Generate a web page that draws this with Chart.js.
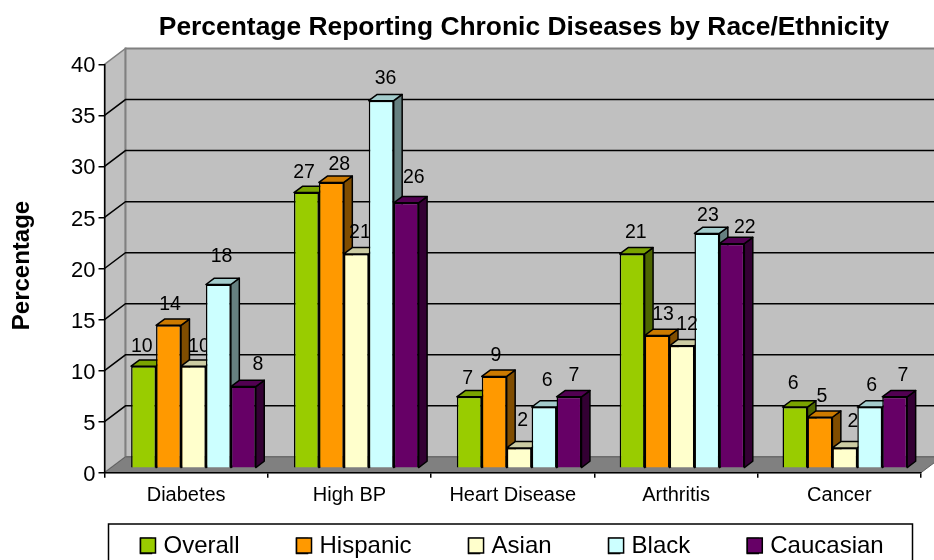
<!DOCTYPE html>
<html><head><meta charset="utf-8">
<style>html,body{margin:0;padding:0;background:#fff;overflow:hidden}canvas{display:block}</style>
<script src="https://cdn.jsdelivr.net/npm/chart.js@4"></script>
</head><body><canvas id="c" width="934" height="560"></canvas>
<script>
const categories = ["Diabetes","High BP","Heart Disease","Arthritis","Cancer"];
const overall  = [10,27,7,21,6];
const hispanic = [14,28,9,13,5];
const asian    = [10,21,2,12,2];
const black    = [18,36,6,23,6];
const caucasian= [8,26,7,22,7];
const seriesNames = ["Overall","Hispanic","Asian","Black","Caucasian"];
const seriesValues = [overall,hispanic,asian,black,caucasian];
const seriesColors = ["#99cc00","#ff9900","#ffffcc","#ccffff","#660066"];
const yTickMax = 40, yTickStep = 5;

// presentation only
const FONT = '"Liberation Sans", Arial, sans-serif';
const wallDX = 21, wallDY = -15.8;      // back wall offset from the axis plane
const barK = 0.99724, barDX = 7.81, barDY = -4.4; // bar plane relative to the axis plane
const depthDX = 8.5, depthDY = -6.3;    // bar depth
const labelNudge = [ // x nudges of data labels, per series per category
  [-1.8,-2.4,-1.5,3.7,-1.9],
  [1.5,7.9,1.8,6,2.1],
  [5.5,3.6,3.5,5,8.1],
  [3.2,4.3,3.1,1,1.8],
  [14.5,7.6,4.8,13,8.1]
];
const labelLift = [ // height of data labels above the bar's front top edge
  [19.5,20.3,18.5,21,23.7],
  [20.4,18,20.7,20.6,21],
  [19.5,21,27,20.8,26],
  [27.8,21.7,26,17.8,21],
  [21.6,24.8,20.8,15.7,21]
];
const labelsBehindNextBar = ["2:0","2:1"]; // series:category labels partly hidden by the next bar
function shade(hex,f){
  const n=parseInt(hex.slice(1),16);
  return `rgb(${Math.round((n>>16&255)*f)},${Math.round((n>>8&255)*f)},${Math.round((n&255)*f)})`;
}
function poly(ctx,pts,fill,stroke,lw){
  ctx.beginPath();pts.forEach((p,i)=>i?ctx.lineTo(p[0],p[1]):ctx.moveTo(p[0],p[1]));ctx.closePath();
  if(fill){ctx.fillStyle=fill;ctx.fill();}
  if(stroke){ctx.strokeStyle=stroke;ctx.lineWidth=lw||1;ctx.stroke();}
}
function shiftMethod(obj,name,ctx,dx,dy){
  const orig=obj[name];
  obj[name]=function(...args){ctx.save();ctx.translate(dx,dy);orig.apply(this,args);ctx.restore();};
}
const threeD = {
  id:'threeD',
  beforeLayout(chart){
    const lg=chart.legend;
    if(lg && !lg.__patched){
      lg.__patched=true;
      const fit=lg.fit;
      lg.fit=function(){fit.call(this);this.height=0;};
    }
  },
  beforeDraw(chart){
    const {ctx,chartArea:a,scales:{y}}=chart;
    const L=a.left,R=a.right,T=a.top,B=a.bottom;
    // title, legend and y-axis text placement
    chart.titleBlock.left=127;
    const lg=chart.legend, pad=lg.options.labels.padding;
    lg.left=140.5-pad; lg.right=1200; lg.top=546-12-pad; lg.bottom=560;
    if(!y.__shifted){
      y.__shifted=true;
      shiftMethod(y,'drawLabels',ctx,0,2);
      shiftMethod(y,'drawTitle',ctx,2,-3);
    }
    ctx.save();
    poly(ctx,[[L,T],[L+wallDX,T+wallDY],[L+wallDX,B+wallDY],[L,B]],'#c0c0c0','#808080',1.5);
    poly(ctx,[[L+wallDX,T+wallDY],[R+wallDX,T+wallDY],[R+wallDX,B+wallDY],[L+wallDX,B+wallDY]],'#c0c0c0','#808080',2);
    poly(ctx,[[L,B],[L+wallDX,B+wallDY],[R+wallDX,B+wallDY],[R,B]],'#808080','#606060',1);
    ctx.strokeStyle='#000';ctx.lineWidth=1.5;
    y.ticks.forEach(t=>{
      if(t.value===0||t.value===yTickMax) return;
      const p=y.getPixelForValue(t.value);
      ctx.beginPath();ctx.moveTo(L,p);ctx.lineTo(L+wallDX,p+wallDY);ctx.lineTo(R+wallDX,p+wallDY);ctx.stroke();
    });
    ctx.strokeStyle='#000';ctx.lineWidth=1.5;ctx.strokeRect(108.5,524,804,40);
    ctx.restore();
  },
  beforeDatasetsDraw(chart){
    const {ctx}=chart;
    ctx.save();
    ctx.transform(barK,0,0,1,barDX,barDY);
    ctx.lineJoin='round';
    chart.data.datasets.forEach((ds,i)=>{
      chart.getDatasetMeta(i).data.forEach(el=>{
        const {x,y,base,width}=el.getProps(['x','y','base','width'],false);
        const l=x-width/2,r=x+width/2;
        const c=seriesColors[i];
        poly(ctx,[[r,y],[r+depthDX,y+depthDY],[r+depthDX,base+depthDY],[r,base]],shade(c,.5),'#000',1.5);
        poly(ctx,[[l,y],[l+depthDX,y+depthDY],[r+depthDX,y+depthDY],[r,y]],shade(c,.8),'#000',1.5);
      });
    });
    ctx.restore();
    ctx.save();
    ctx.transform(barK,0,0,1,barDX,barDY);
  },
  afterDatasetsDraw(chart){
    const {ctx}=chart;
    ctx.restore();
    ctx.save();
    ctx.font='19.5px '+FONT;ctx.fillStyle='#000';ctx.textAlign='center';ctx.textBaseline='middle';
    chart.data.datasets.forEach((ds,i)=>{
      chart.getDatasetMeta(i).data.forEach((el,j)=>{
        const {x,y,width}=el.getProps(['x','y','width'],false);
        const bx=x*barK+barDX;
        const behind=labelsBehindNextBar.includes(i+":"+j);
        if(behind){ctx.save();ctx.beginPath();ctx.rect(0,0,bx+width/2,560);ctx.clip();}
        ctx.fillText(String(ds.data[j]),bx+labelNudge[i][j],y+barDY-labelLift[i][j]);
        if(behind)ctx.restore();
      });
    });
    ctx.restore();
  },
  afterDraw(chart){
    // full-size legend swatches, closer to their text than the library's fixed gap
    const {ctx}=chart, hb=chart.legend.legendHitBoxes;
    ctx.save();
    hb.forEach((h,i)=>{
      const x=140.5+(h.left-hb[0].left);
      ctx.fillStyle=seriesColors[i];ctx.strokeStyle='#000';ctx.lineWidth=1.5;
      ctx.fillRect(x,538,15,15);ctx.strokeRect(x,538,15,15);
    });
    ctx.restore();
  }
};
new Chart(document.getElementById('c'),{
  type:'bar',
  data:{labels:categories,datasets:seriesNames.map((n,i)=>({
    label:n,data:seriesValues[i],backgroundColor:seriesColors[i],borderColor:'#000',borderWidth:1.5,
    categoryPercentage:0.7655,barPercentage:1,clip:false
  }))},
  options:{
    responsive:false,animation:false,devicePixelRatio:1,
    layout:{padding:{left:0,right:13,top:0,bottom:0}},
    plugins:{
      title:{display:true,text:"Percentage Reporting Chronic Diseases by Race/Ethnicity",color:'#000',
        font:{family:FONT,size:26.4,weight:'bold'},padding:{top:12,bottom:20.6}},
      legend:{position:'bottom',align:'start',labels:{color:'#000',font:{family:FONT,size:24},boxWidth:11,boxHeight:15,padding:57},
        onClick:null},
      tooltip:{enabled:false}
    },
    scales:{
      x:{grid:{offset:true,drawOnChartArea:false,color:'#000',lineWidth:1.5,tickLength:5},
        border:{color:'#000',width:1.5},
        ticks:{color:'#000',font:{family:FONT,size:20},padding:6,maxRotation:0,autoSkip:false},
        afterFit(s){s.height=87.3;}},
      y:{min:0,max:yTickMax,grid:{drawOnChartArea:false,color:'#000',lineWidth:1.5,tickLength:6},
        border:{color:'#000',width:1.5},
        ticks:{stepSize:yTickStep,color:'#000',font:{family:FONT,size:22},padding:3},
        title:{display:true,text:'Percentage',color:'#000',font:{family:FONT,size:24,weight:'bold'},padding:{top:6,bottom:0}},
        afterFit(s){s.width=104.5;}}
    }
  },
  plugins:[threeD]
});
</script></body></html>
